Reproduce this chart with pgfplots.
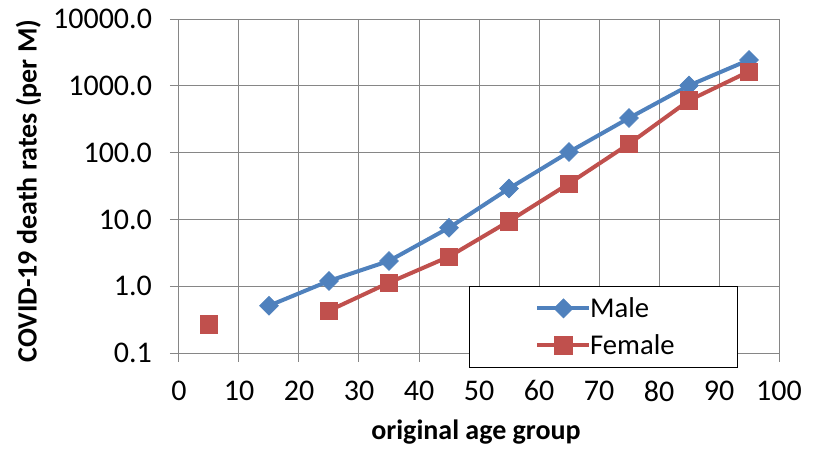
\documentclass[border=0pt]{standalone}
\usepackage{pgfplots}
\pgfplotsset{compat=1.18}
\usepackage{fontspec}
\setmainfont{Carlito}
\definecolor{male}{RGB}{79,129,189}
\definecolor{female}{RGB}{192,80,77}
\definecolor{gridc}{RGB}{134,134,134}
\begin{document}
\begin{tikzpicture}
\useasboundingbox (-134.25pt,-76.5pt) rectangle (476.25pt,264.75pt);
\begin{axis}[
  at={(0,0)}, anchor=south west,
  scale only axis, width=450pt, height=250.5pt,
  xmin=0, xmax=100, ymode=log, ymin=0.1, ymax=10000,
  xtick={0,10,20,30,40,50,60,70,80,90,100},
  xticklabels={0,10,20,30,40,50,60,70,80,90,100},
  ytick={0.1,1,10,100,1000,10000},
  yticklabels={0.1,1.0,10.0,100.0,1000.0,10000.0},
  yminorticks=false, xminorticks=false,
  grid=major, major grid style={gridc, line width=0.75pt},
  axis line style={gridc, line width=0.75pt},
  tick style={gridc, line width=0.75pt},
  tick align=outside, tick pos=left, major tick length=6.75pt,
  tick label style={font=\fontsize{22.5}{26}\selectfont, black},
  xticklabel style={yshift=-10.5pt},
  yticklabel style={xshift=-10pt},
  xlabel={original age group},
  ylabel={COVID-19 death rates (per M)},
  label style={font=\bfseries\fontsize{21}{25}\selectfont},
  xlabel style={at={(axis description cs:0.495,-0.2355)}, anchor=center},
  ylabel style={at={(axis description cs:-0.2511,0.485)}, anchor=center},
  unbounded coords=jump,
  legend style={at={(axis description cs:0.4833,0.2006)}, anchor=north west,
    draw=black, line width=0.75pt, fill=white, inner xsep=0pt, inner ysep=2.5pt,
    font=\fontsize{21.5}{25}\selectfont, nodes={inner sep=0pt},
    column sep=-1pt},
  legend cell align=left,
  legend image code/.code={%
    \path (-49.5pt,-12.4pt) (0pt,12.4pt);
    \draw[mark repeat=2,mark phase=2] plot coordinates {(0pt,0pt) (19.5pt,0pt) (39pt,0pt)};},
]
\addplot[male, line width=3pt, mark=square*, mark size=5pt,
  mark options={rotate=45, solid, fill=male, draw=male, line width=0.5pt}]
  coordinates {(15,0.51) (25,1.2) (35,2.39) (45,7.5) (55,29) (65,102) (75,329) (85,1010) (95,2440)};
\addlegendentry{\makebox[110.5pt][l]{Male}}
\addplot[female, line width=3pt, mark=square*, mark size=6.5pt,
  mark options={solid, fill=female, draw=female, line width=0.5pt}]
  coordinates {(5,0.27) (15,nan) (25,0.43) (35,1.13) (45,2.77) (55,9.4) (65,34.4) (75,135) (85,604) (95,1637)};
\addlegendentry{\makebox[110.5pt][l]{Female}}
\end{axis}
\end{tikzpicture}
\end{document}
